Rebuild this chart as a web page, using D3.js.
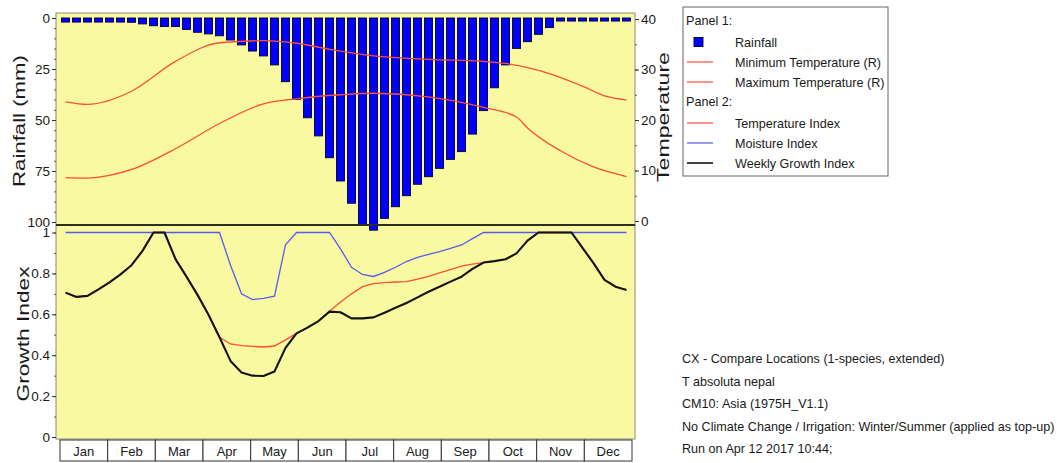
<!DOCTYPE html>
<html>
<head>
<meta charset="utf-8">
<script src="https://cdn.jsdelivr.net/npm/d3@7/dist/d3.min.js"></script>
<style>
  body { margin: 0; background: #ffffff; }
  svg text { font-family: "Liberation Sans", Arial, sans-serif; fill: #1a1a1a; }
</style>
</head>
<body>
<svg id="chart" width="1062" height="463"></svg>
<script>
// ---- data -------------------------------------------------------------
const months = ["Jan","Feb","Mar","Apr","May","Jun","Jul","Aug","Sep","Oct","Nov","Dec"];
const weeks = d3.range(52);

// weekly rainfall (mm), plotted downward from the top of panel 1
const rainfall = [
  2.0, 2.0, 2.0, 2.0, 2.0, 2.0, 2.1, 2.9, 3.8, 4.2, 4.2, 5.6, 7.0,
  7.8, 8.7, 10.8, 13.2, 16.2, 18.6, 23.0, 31.2, 39.9, 48.9, 57.8, 68.5, 79.9,
  90.8, 101.5, 104.0, 98.2, 92.5, 87.1, 81.5, 77.8, 73.7, 69.3, 65.5, 56.9, 45.4,
  34.2, 23.0, 14.9, 11.6, 8.0, 4.7, 1.5, 1.5, 1.5, 1.5, 1.5, 1.5, 1.5
];

// temperature curves (°C) given at week positions
const maxTempWeek = [0, 2, 6, 10, 14, 18, 21, 24, 28, 33, 38, 40, 44, 47, 49, 51];
const maxTemp     = [23.6, 23.1, 25.7, 31.6, 35.3, 35.7, 35.2, 34.0, 32.7, 32.0, 31.6, 31.2, 29.2, 26.7, 24.8, 24.0];
const minTempWeek = [0, 2, 6, 10, 14, 18, 21, 25, 28, 33, 38, 41, 42, 45, 48, 51];
const minTemp     = [8.6, 8.5, 10.2, 14.3, 19.3, 23.2, 24.2, 25.0, 25.3, 24.6, 22.5, 20.6, 18.4, 13.9, 10.7, 8.8];

// weekly indices for panel 2
const temperatureIndex = [
  0.706, 0.685, 0.690, 0.722, 0.756, 0.795, 0.840, 0.910, 1.000, 1.000, 0.870, 0.784, 0.695,
  0.598, 0.488, 0.455, 0.447, 0.443, 0.440, 0.445, 0.475, 0.507, 0.535, 0.567, 0.615, 0.660,
  0.700, 0.735, 0.750, 0.755, 0.758, 0.760, 0.772, 0.785, 0.802, 0.818, 0.836, 0.845, 0.853,
  0.860, 0.869, 0.898, 0.960, 1.000, 1.000, 1.000, 1.000, 0.925, 0.850, 0.768, 0.735, 0.719
];
const moistureIndex = [
  1.000, 1.000, 1.000, 1.000, 1.000, 1.000, 1.000, 1.000, 1.000, 1.000, 1.000, 1.000, 1.000,
  1.000, 1.000, 0.840, 0.700, 0.672, 0.678, 0.689, 0.940, 1.000, 1.000, 1.000, 1.000, 0.920,
  0.830, 0.795, 0.785, 0.805, 0.830, 0.858, 0.878, 0.893, 0.907, 0.922, 0.939, 0.970, 1.000,
  1.000, 1.000, 1.000, 1.000, 1.000, 1.000, 1.000, 1.000, 1.000, 1.000, 1.000, 1.000, 1.000
];
const growthIndex = [
  0.706, 0.685, 0.690, 0.722, 0.756, 0.795, 0.840, 0.910, 1.000, 1.000, 0.870, 0.784, 0.695,
  0.598, 0.488, 0.372, 0.315, 0.300, 0.298, 0.320, 0.436, 0.507, 0.535, 0.567, 0.613, 0.610,
  0.580, 0.580, 0.585, 0.608, 0.632, 0.655, 0.683, 0.710, 0.735, 0.760, 0.784, 0.822, 0.853,
  0.860, 0.869, 0.898, 0.960, 1.000, 1.000, 1.000, 1.000, 0.925, 0.850, 0.768, 0.735, 0.719
];

const rainTicks = [0, 25, 50, 75, 100];
const tempTicks = [0, 10, 20, 30, 40];
const growthTicks = [0, 0.2, 0.4, 0.6, 0.8, 1];

const notes = [
  "CX - Compare Locations (1-species, extended)",
  "T absoluta nepal",
  "CM10: Asia (1975H_V1.1)",
  "No Climate Change / Irrigation: Winter/Summer (applied as top-up)",
  "Run on Apr 12 2017 10:44;"
];

// ---- layout -----------------------------------------------------------
const plotL = 56, plotR = 635;
const dataL = 60, dataR = 632;
const p1Top = 13, p1Bot = 225, p2Bot = 439;
const YELLOW = "#f9f9a2";
const RED = "#ff4b3a";
const BLUE = "#5a5af2";
const BAR = "#0000ff";

const svg = d3.select("#chart");

const xBar = d3.scaleBand().domain(weeks).range([dataL, dataR]).paddingInner(0.27).paddingOuter(0.135);
const xWeek = d3.scaleLinear().domain([-0.5, 51.5]).range([dataL, dataR]);
const xMonth = d3.scaleBand().domain(months).range([dataL, dataR]);
const yRain = d3.scaleLinear().domain([0, 100]).range([18, 222]);
const yTemp = d3.scaleLinear().domain([0, 40]).range([221, 19]);
const yGrowth = d3.scaleLinear().domain([0, 1]).range([437, 232.5]);

// panel backgrounds
svg.append("rect").attr("x", plotL).attr("y", p1Top).attr("width", plotR - plotL).attr("height", p1Bot - p1Top)
  .attr("fill", YELLOW).attr("stroke", "#8a8a7a").attr("stroke-width", 1);
svg.append("rect").attr("x", plotL).attr("y", p1Bot).attr("width", plotR - plotL).attr("height", p2Bot - p1Bot)
  .attr("fill", YELLOW).attr("stroke", "#8a8a7a").attr("stroke-width", 1);

// ---- panel 1: rainfall bars + temperature lines -------------------------
svg.append("g").selectAll("rect").data(weeks).join("rect")
  .attr("x", d => xBar(d))
  .attr("y", yRain(0))
  .attr("width", xBar.bandwidth())
  .attr("height", d => yRain(rainfall[d]) - yRain(0))
  .attr("fill", BAR)
  .attr("stroke", "#000030")
  .attr("stroke-width", 0.9);

const tempLine = d3.line().curve(d3.curveMonotoneX);
svg.append("path")
  .attr("d", tempLine(maxTempWeek.map((w, i) => [xWeek(w), yTemp(maxTemp[i])])))
  .attr("fill", "none").attr("stroke", RED).attr("stroke-width", 1.3);
svg.append("path")
  .attr("d", tempLine(minTempWeek.map((w, i) => [xWeek(w), yTemp(minTemp[i])])))
  .attr("fill", "none").attr("stroke", RED).attr("stroke-width", 1.3);

// separator between the two panels
svg.append("line").attr("x1", plotL).attr("x2", plotR).attr("y1", p1Bot).attr("y2", p1Bot)
  .attr("stroke", "#2e2e22").attr("stroke-width", 2);

// ---- panel 2: index lines ----------------------------------------------
const idxLine = d3.line().x((d, i) => xWeek(i)).y(d => yGrowth(d));
svg.append("path").attr("d", idxLine(moistureIndex))
  .attr("fill", "none").attr("stroke", BLUE).attr("stroke-width", 1.3);
svg.append("path").attr("d", idxLine(temperatureIndex))
  .attr("fill", "none").attr("stroke", RED).attr("stroke-width", 1.3);
svg.append("path").attr("d", idxLine(growthIndex))
  .attr("fill", "none").attr("stroke", "#141414").attr("stroke-width", 2.1).attr("stroke-linejoin", "round");

// ---- axes --------------------------------------------------------------
function styleAxis(g) {
  g.select(".domain").remove();
  g.selectAll(".tick line").attr("stroke", "#333");
  g.selectAll(".tick text").style("font-size", "13.5px").attr("fill", "#1a1a1a");
}
function minorAxis(g) {
  g.select(".domain").remove();
  g.selectAll(".tick line").attr("stroke", "#555");
  g.selectAll(".tick text").remove();
}

svg.append("g").attr("transform", `translate(${plotL},0)`)
  .call(d3.axisLeft(yRain).tickValues(d3.range(0, 101, 5)).tickSize(2).tickFormat(""))
  .call(minorAxis);
svg.append("g").attr("transform", `translate(${plotL},0)`)
  .call(d3.axisLeft(yRain).tickValues(rainTicks).tickSize(4).tickPadding(2))
  .call(styleAxis);

svg.append("g").attr("transform", `translate(${plotR},0)`)
  .call(d3.axisRight(yTemp).tickValues(d3.range(0, 41, 5)).tickSize(2).tickFormat(""))
  .call(minorAxis);
svg.append("g").attr("transform", `translate(${plotR},0)`)
  .call(d3.axisRight(yTemp).tickValues(tempTicks).tickSize(4).tickPadding(2))
  .call(styleAxis);

svg.append("g").attr("transform", `translate(${plotL},0)`)
  .call(d3.axisLeft(yGrowth).tickValues(d3.range(0, 1.01, 0.1)).tickSize(2).tickFormat(""))
  .call(minorAxis);
svg.append("g").attr("transform", `translate(${plotL},0)`)
  .call(d3.axisLeft(yGrowth).tickValues(growthTicks).tickSize(4).tickPadding(2)
    .tickFormat(d => (d === 0 || d === 1) ? String(d) : d3.format(".1f")(d)))
  .call(styleAxis);

// month boxes under panel 2
const monthG = svg.append("g").selectAll("g").data(months).join("g")
  .attr("transform", d => `translate(${xMonth(d)},440)`);
monthG.append("rect").attr("width", xMonth.bandwidth()).attr("height", 21)
  .attr("fill", "#ffffff").attr("stroke", "#333").attr("stroke-width", 1);
monthG.append("text").attr("x", xMonth.bandwidth() / 2).attr("y", 15.5)
  .attr("text-anchor", "middle").style("font-size", "13px").text(d => d);

// axis titles (drawn elongated along their baseline)
function axisTitle(x, y, len, label) {
  svg.append("text").attr("transform", `translate(${x},${y}) rotate(-90)`)
    .attr("text-anchor", "middle").style("font-size", "16.5px")
    .attr("textLength", len).attr("lengthAdjust", "spacingAndGlyphs")
    .text(label);
}
axisTitle(24.5, 121, 132, "Rainfall (mm)");
axisTitle(669, 117, 130, "Temperature");
axisTitle(28.5, 334, 135, "Growth Index");

// ---- legend ------------------------------------------------------------
const legend = svg.append("g");
legend.append("rect").attr("x", 683).attr("y", 7).attr("width", 205).attr("height", 169)
  .attr("fill", "#ffffff").attr("stroke", "#666").attr("stroke-width", 1);

const legendRows = [
  { label: "Panel 1:", y: 20, header: true },
  { label: "Rainfall", y: 42, kind: "bar" },
  { label: "Minimum Temperature (R)", y: 62, kind: "line", color: RED },
  { label: "Maximum Temperature (R)", y: 82, kind: "line", color: RED },
  { label: "Panel 2:", y: 101, header: true },
  { label: "Temperature Index", y: 123, kind: "line", color: RED },
  { label: "Moisture Index", y: 143, kind: "line", color: BLUE },
  { label: "Weekly Growth Index", y: 163, kind: "line", color: "#141414" }
];
legendRows.forEach(r => {
  if (r.header) {
    legend.append("text").attr("x", 686).attr("y", r.y + 4.5).style("font-size", "12.6px").text(r.label);
    return;
  }
  if (r.kind === "bar") {
    legend.append("rect").attr("x", 694).attr("y", r.y - 4.5).attr("width", 9).attr("height", 9)
      .attr("fill", BAR).attr("stroke", "#000030").attr("stroke-width", 0.9);
  } else {
    legend.append("line").attr("x1", 687).attr("x2", 713).attr("y1", r.y).attr("y2", r.y)
      .attr("stroke", r.color).attr("stroke-width", r.color === "#141414" ? 1.6 : 1.2);
  }
  legend.append("text").attr("x", 735).attr("y", r.y + 4.5).style("font-size", "12.6px").text(r.label);
});

// ---- run notes -----------------------------------------------------------
svg.append("g").selectAll("text").data(notes).join("text")
  .attr("x", 682).attr("y", (d, i) => 363 + i * 22.5)
  .style("font-size", "12.6px").text(d => d);
</script>
</body>
</html>
